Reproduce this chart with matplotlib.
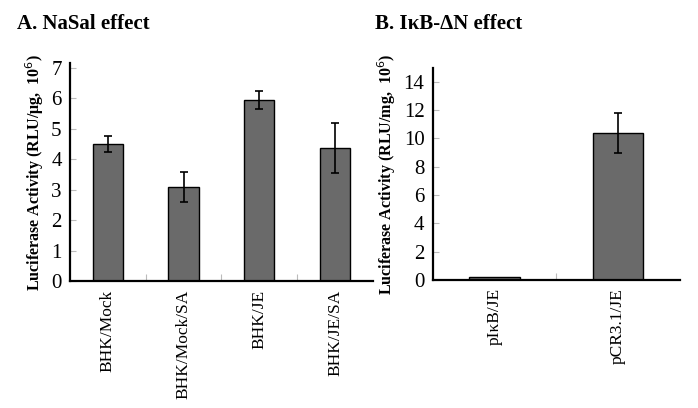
import numpy as np
import matplotlib.pyplot as plt

plt.rcParams['font.family'] = ['Liberation Serif', 'DejaVu Serif']

# Panel A data
cats_a = ['BHK/Mock', 'BHK/Mock/SA', 'BHK/JE', 'BHK/JE/SA']
vals_a = [4.5, 3.1, 5.95, 4.37]
err_a = [0.27, 0.5, 0.3, 0.82]

# Panel B data
cats_b = ['pI\u03baB/JE', 'pCR3.1/JE']
vals_b = [0.2, 10.4]
err_b = [0.0, 1.4]

bar_color = '#6a6a6a'

fig = plt.figure(figsize=(6.98, 4.08), dpi=100)
axA = fig.add_axes([0.1003, 0.311, 0.434, 0.535])
axB = fig.add_axes([0.620, 0.314, 0.354, 0.520])


def style_axis(ax, cats, vals, errs, ylim, yticks, width):
    x = np.arange(len(cats))
    ax.bar(x, vals, width=width, color=bar_color, edgecolor='black', linewidth=1.0, zorder=2)
    ex = [i for i, e in zip(x, errs) if e > 0]
    ev = [v for v, e in zip(vals, errs) if e > 0]
    ee = [e for e in errs if e > 0]
    ax.errorbar(ex, ev, yerr=ee, fmt='none', ecolor='black', elinewidth=1.2,
                capsize=3, capthick=1.2, zorder=3)
    ax.set_xlim(-0.5, len(cats) - 0.5)
    ax.set_ylim(*ylim)
    ax.set_yticks(yticks)
    ax.set_yticklabels([str(t) for t in yticks], fontsize=15)
    ax.set_xticks(x)
    ax.set_xticklabels(cats, rotation=90, fontsize=12.5)
    ax.tick_params(axis='x', length=0, pad=6)
    ax.set_xticks(np.arange(len(cats) - 1) + 0.5, minor=True)
    ax.tick_params(axis='x', which='minor', direction='in', length=5, color='#bbbbbb', width=0.8)
    ax.tick_params(axis='y', direction='in', length=4, color='#bbbbbb', width=0.8, pad=6)
    for s in ['top', 'right']:
        ax.spines[s].set_visible(False)
    ax.spines['left'].set_linewidth(1.6)
    ax.spines['bottom'].set_linewidth(1.6)


style_axis(axA, cats_a, vals_a, err_a, (0, 7.17), list(range(0, 8)), 0.4)
style_axis(axB, cats_b, vals_b, err_b, (0, 15), list(range(0, 15, 2)), 0.41)

axA.set_ylabel('Luciferase Activity (RLU/\u03bcg,  10$^6$)', fontsize=11.5, fontweight='bold', labelpad=4)
axB.set_ylabel('Luciferase Activity (RLU/mg,  10$^6$)', fontsize=11.5, fontweight='bold', labelpad=4)

fig.text(0.024, 0.94, 'A. NaSal effect', fontsize=15, fontweight='bold', va='center')
fig.text(0.537, 0.94, 'B. I\u03baB-\u0394N effect', fontsize=15, fontweight='bold', va='center')

fig.savefig('out.png', dpi=100)
